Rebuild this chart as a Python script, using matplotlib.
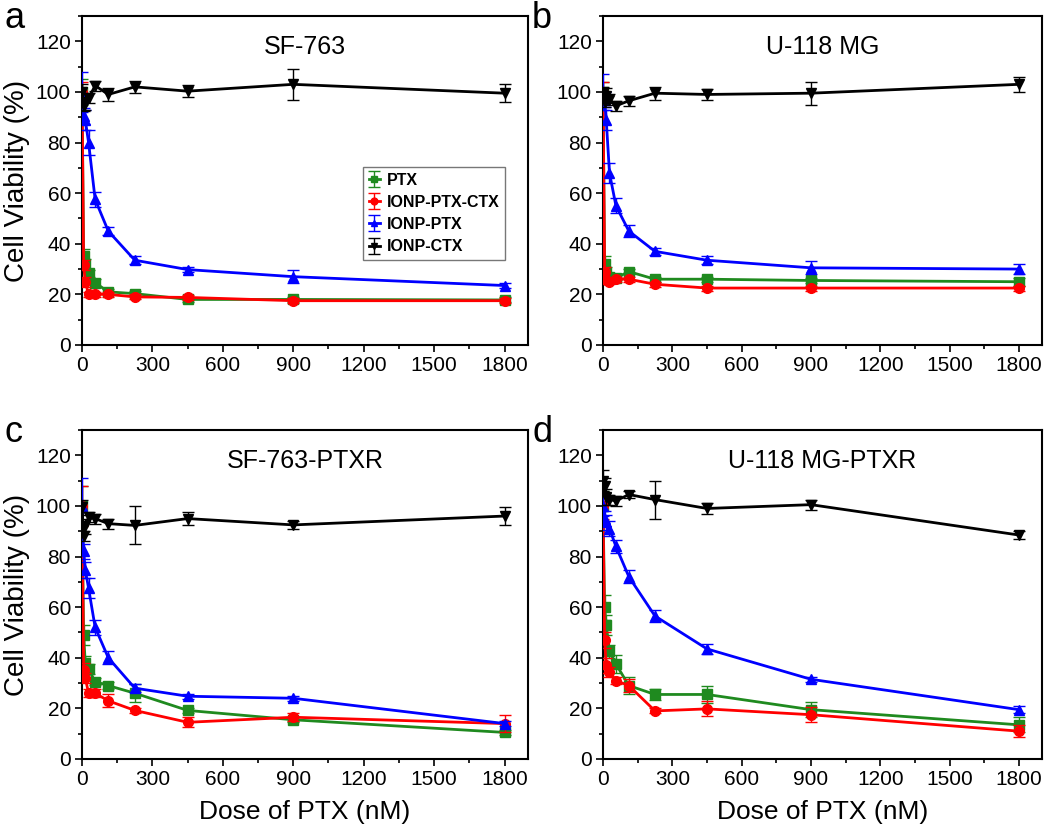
import matplotlib
matplotlib.use("Agg")
import matplotlib.pyplot as plt
from matplotlib.ticker import MultipleLocator
import numpy as np

plt.rcParams['font.family'] = ['Liberation Sans', 'DejaVu Sans']

doses = [0, 7, 14, 28, 56, 112, 225, 450, 900, 1800]
series_names = ["PTX", "IONP-PTX-CTX", "IONP-PTX", "IONP-CTX"]
colors = ["#1f8a1f", "#ff0000", "#0000ff", "#000000"]
markers = ["s", "o", "^", "v"]

panel_titles = ["SF-763", "U-118 MG", "SF-763-PTXR", "U-118 MG-PTXR"]
panel_letters = ["a", "b", "c", "d"]

# Panel a: SF-763
a_ptx      = [100, 35, 32, 28.3, 24.6, 21, 20.3, 18, 18, 17.8]
a_ptx_ctx  = [100, 31.5, 25, 20, 20, 20, 19, 18.8, 17.5, 17.5]
a_ionp_ptx = [100, 90.5, 89, 80, 57.5, 45, 33.5, 29.8, 27, 23.5]
a_ionp_ctx = [100, 94.5, 96, 97.5, 102.5, 99, 102, 100.3, 103, 99.5]
a_err_ptx      = [5, 3, 2, 1.5, 1.5, 1, 1, 1, 1, 1]
a_err_ptx_ctx  = [4, 2, 2, 1, 1, 1, 1, 1, 1, 1]
a_err_ionp_ptx = [8, 3, 4, 5, 3, 1.5, 1.5, 1, 2.5, 1]
a_err_ionp_ctx = [3, 2, 3, 2, 2, 2.5, 2.5, 2.5, 6, 3.5]

# Panel b: U-118 MG
b_ptx      = [100, 32, 29, 27, 26.5, 29, 26, 26, 25.5, 25]
b_ptx_ctx  = [100, 29, 25.5, 25, 26, 26, 24, 22.5, 22.5, 22.5]
b_ionp_ptx = [100, 97, 89, 68, 55, 45, 37, 33.5, 30.5, 30]
b_ionp_ctx = [99, 96, 98.5, 97, 94.5, 96.5, 99.5, 99, 99.5, 103]
b_err_ptx      = [4, 3, 2, 1.5, 1, 1, 1, 1, 1, 1.5]
b_err_ptx_ctx  = [4, 2, 1, 1, 1, 1, 1, 1, 1, 1]
b_err_ionp_ptx = [7, 3, 4, 4, 3, 2.5, 1.5, 1.5, 2.5, 2]
b_err_ionp_ctx = [3, 2, 3, 2, 2, 2, 2.5, 2, 4.5, 3]

# Panel c: SF-763-PTXR
c_ptx      = [100, 49, 37.8, 35.4, 30.6, 29, 26, 19.2, 15.5, 10.5]
c_ptx_ctx  = [100, 35, 32, 26, 26, 23, 19.2, 14.5, 16.5, 14]
c_ionp_ptx = [100, 82, 74.7, 67.5, 52, 40, 28, 24.8, 24, 14]
c_ionp_ctx = [99.5, 88, 92, 95.5, 95, 93, 92.3, 95, 92.5, 96]
c_err_ptx      = [8, 4, 3, 2, 1.5, 1.5, 3.5, 1, 1, 1]
c_err_ptx_ctx  = [8, 3, 2, 1.5, 1.5, 2.5, 1, 2, 1.5, 3.5]
c_err_ionp_ptx = [11, 3, 3, 4, 3, 2.5, 1.5, 1, 1, 1]
c_err_ionp_ctx = [3, 2, 3, 2, 2, 2, 7.5, 2.5, 1.5, 3.5]

# Panel d: U-118 MG-PTXR
d_ptx      = [100, 60, 53, 42.5, 37.5, 29, 25.5, 25.5, 19.5, 13.5]
d_ptx_ctx  = [100, 47, 37, 34.5, 31, 29, 19, 19.8, 17.5, 11]
d_ionp_ptx = [100, 95, 93.5, 91, 84, 72, 56.5, 43.5, 31.5, 19.5]
d_ionp_ctx = [110, 108, 103.5, 102.5, 102, 104.5, 102.5, 99, 100.5, 88.5]
d_err_ptx      = [6, 5, 4, 2.5, 3.5, 3.5, 2, 3.5, 3, 3]
d_err_ptx_ctx  = [5, 3, 3, 2, 1.5, 2.5, 1, 3, 3, 2.5]
d_err_ionp_ptx = [4, 3, 3, 3, 2.5, 2.5, 2.5, 2, 1, 1.5]
d_err_ionp_ctx = [4, 3, 3, 2, 2, 1.5, 7.5, 2, 2, 1.5]

panels = [
    ([a_ptx, a_ptx_ctx, a_ionp_ptx, a_ionp_ctx], [a_err_ptx, a_err_ptx_ctx, a_err_ionp_ptx, a_err_ionp_ctx]),
    ([b_ptx, b_ptx_ctx, b_ionp_ptx, b_ionp_ctx], [b_err_ptx, b_err_ptx_ctx, b_err_ionp_ptx, b_err_ionp_ctx]),
    ([c_ptx, c_ptx_ctx, c_ionp_ptx, c_ionp_ctx], [c_err_ptx, c_err_ptx_ctx, c_err_ionp_ptx, c_err_ionp_ctx]),
    ([d_ptx, d_ptx_ctx, d_ionp_ptx, d_ionp_ctx], [d_err_ptx, d_err_ptx_ctx, d_err_ionp_ptx, d_err_ionp_ctx]),
]

W, H = 1050, 833
fig = plt.figure(figsize=(W / 100, H / 100), dpi=100)

# axes rectangles in pixels: left, top, right, bottom
rects = [(82, 16, 528, 345), (603, 16, 1042, 345), (82, 430, 528, 759), (603, 430, 1042, 759)]
letter_pos = [(4, 18), (532, 18), (4, 432), (532, 432)]

for i, ((vals, errs), (l, t, r, b)) in enumerate(zip(panels, rects)):
    ax = fig.add_axes([l / W, 1 - b / H, (r - l) / W, (b - t) / H])
    for j in range(4):
        ax.errorbar(doses, vals[j], yerr=errs[j], color=colors[j], marker=markers[j],
                    markersize=7, linewidth=2, elinewidth=1, capsize=4, capthick=1,
                    label=series_names[j], zorder=2 + j)
    ax.set_xlim(0, 1900)
    ax.set_ylim(0, 130)
    ax.xaxis.set_major_locator(MultipleLocator(300))
    ax.xaxis.set_minor_locator(MultipleLocator(150))
    ax.yaxis.set_major_locator(MultipleLocator(20))
    ax.yaxis.set_minor_locator(MultipleLocator(10))
    ax.set_yticks(np.arange(0, 121, 20))
    ax.tick_params(which='major', direction='out', length=5, width=1.2, labelsize=15,
                   top=False, right=False, pad=3)
    ax.tick_params(which='minor', direction='out', length=3, width=1.2, top=False, right=False)
    for s in ax.spines.values():
        s.set_linewidth(1.5)
    ax.text(0.5, 0.905, panel_titles[i], transform=ax.transAxes, ha='center', va='center',
            fontsize=18)
    lx, ly = letter_pos[i]
    fig.text(lx / W, 1 - ly / H, panel_letters[i], fontsize=26, ha='left', va='center')
    if i % 2 == 0:
        ax.set_ylabel("Cell Viability (%)", fontsize=20, labelpad=4)
    if i >= 2:
        ax.set_xlabel("Dose of PTX (nM)", fontsize=19, labelpad=8)
    if i == 0:
        leg = ax.legend(loc='upper right', bbox_to_anchor=(0.948, 0.541), frameon=True,
                        fancybox=False, edgecolor='#555555', handlelength=0.7,
                        handletextpad=0.4, borderpad=0.35, labelspacing=0.45,
                        borderaxespad=0, prop={'weight': 'bold', 'size': 11.5}, markerscale=0.7)
        leg.get_frame().set_linewidth(1)

fig.savefig("out.png", dpi=100)
